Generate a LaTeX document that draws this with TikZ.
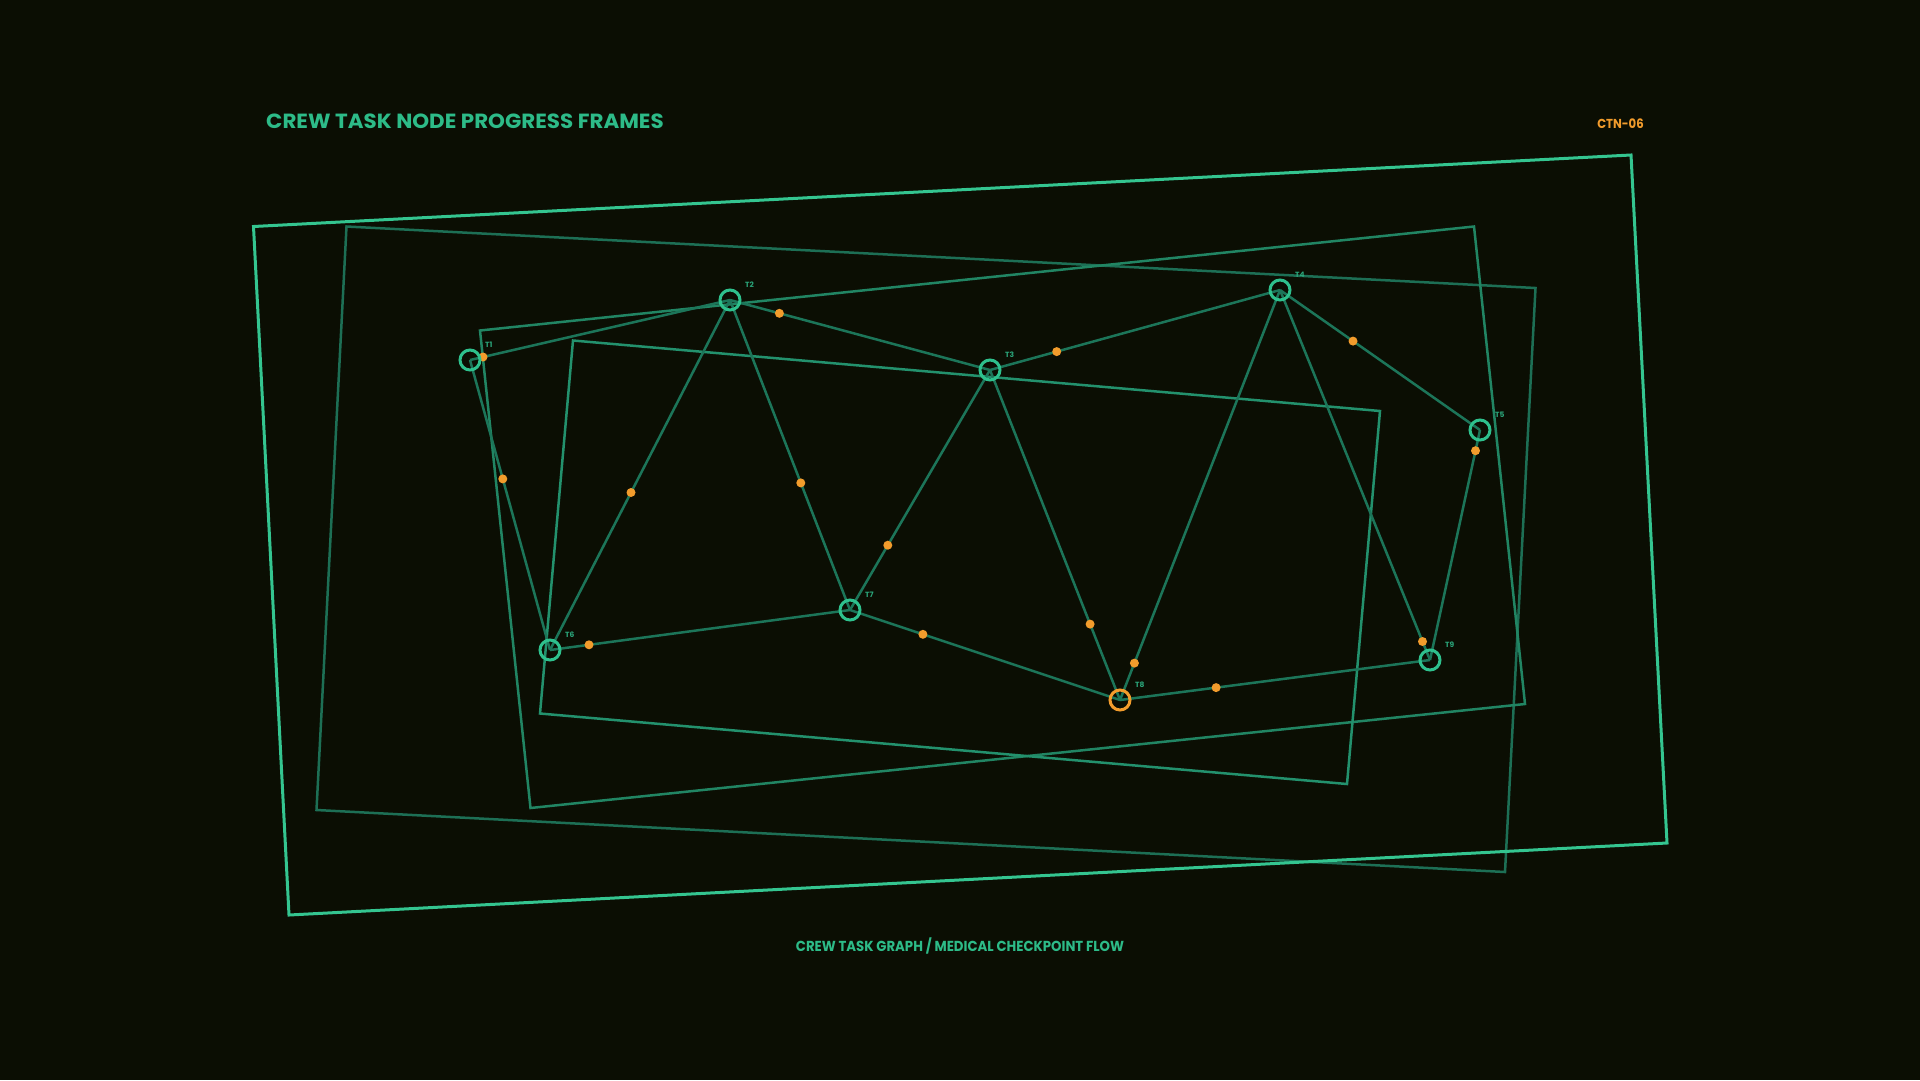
\documentclass[tikz,border=0pt]{standalone}
\usepackage{fontspec}
\setmainfont{Poppins}
\definecolor{bgc}{HTML}{0B0E03}
\definecolor{frA}{HTML}{34C590}
\definecolor{frB}{HTML}{1D6F55}
\definecolor{frC}{HTML}{218563}
\definecolor{frD}{HTML}{23916D}
\definecolor{edgec}{HTML}{1C7559}
\definecolor{nodec}{HTML}{2EC08D}
\definecolor{labc}{HTML}{2AA57A}
\definecolor{orng}{HTML}{F29C2C}
\definecolor{titlec}{HTML}{2DBB88}
\tikzset{
  frameA/.style={draw=frA, line width=3pt},
  frameB/.style={draw=frB, line width=2.5pt},
  frameC/.style={draw=frC, line width=2.5pt},
  frameD/.style={draw=frD, line width=2.5pt},
  edge/.style={draw=edgec, line width=2.5pt},
  tasknode/.style={circle, draw=nodec, line width=3pt, minimum size=20pt, inner sep=0pt},
  hotnode/.style={tasknode, draw=orng},
  progdot/.style={circle, fill=orng, minimum size=9pt, inner sep=0pt},
  tlabel/.style={anchor=west, text=labc, font=\bfseries\fontsize{7.5}{8}\selectfont, inner sep=0pt},
}
\begin{document}
\begin{tikzpicture}[x=1pt, y=-1pt]
\fill[bgc] (0,0) rectangle (1920,1080);
\useasboundingbox (0,0) rectangle (1920,1080);

% frames
\draw[frameB] (346.5,226.5) -- (1535.5,288) -- (1505,872) -- (316.5,810) -- cycle;
\draw[frameC] (480,330.5) -- (1474,226.5) -- (1525,704) -- (530.5,808) -- cycle;
\draw[frameD] (573,340.5) -- (1380,411) -- (1347,784) -- (540,713.5) -- cycle;
\draw[frameA] (253.5,226.5) -- (1631,155) -- (1667,843) -- (289,915) -- cycle;

% node centres
\coordinate (T1) at (470,360);
\coordinate (T2) at (730,300);
\coordinate (T3) at (990,370);
\coordinate (T4) at (1280,290);
\coordinate (T5) at (1480,430);
\coordinate (T6) at (550,650);
\coordinate (T7) at (850,610);
\coordinate (T8) at (1120,700);
\coordinate (T9) at (1430,660);

% edges with progress dots
\draw[edge] (T1) -- (T2) node[progdot, pos=0.05] (d12) {};
\draw[edge] (T1) -- (T6) node[progdot, pos=0.41] (d16) {};
\draw[edge] (T2) -- (T6) node[progdot, pos=0.55] (d26) {};
\draw[edge] (T2) -- (T3) node[progdot, pos=0.19] (d23) {};
\draw[edge] (T2) -- (T7) node[progdot, pos=0.59] (d27) {};
\draw[edge] (T3) -- (T4) node[progdot, pos=0.23] (d34) {};
\draw[edge] (T3) -- (T7) node[progdot, pos=0.73] (d37) {};
\draw[edge] (T3) -- (T8) node[progdot, pos=0.77] (d38) {};
\draw[edge] (T4) -- (T8) node[progdot, pos=0.91] (d48) {};
\draw[edge] (T4) -- (T5) node[progdot, pos=0.365] (d45) {};
\draw[edge] (T4) -- (T9) node[progdot, pos=0.95] (d49) {};
\draw[edge] (T5) -- (T9) node[progdot, pos=0.09] (d59) {};
\draw[edge] (T6) -- (T7) node[progdot, pos=0.13] (d67) {};
\draw[edge] (T7) -- (T8) node[progdot, pos=0.27] (d78) {};
\draw[edge] (T8) -- (T9) node[progdot, pos=0.31] (d89) {};

% task nodes
\foreach \n in {1,2,3,4,5,6,7,9}{
  \node[tasknode] (n\n) at (T\n) {};
  \node[tlabel] (l\n) at ([xshift=15pt, yshift=15pt]T\n) {T\n};
}
\node[hotnode] (n8) at (T8) {};
\node[tlabel] (l8) at ([xshift=15pt, yshift=15pt]T8) {T8};

% texts
\node[anchor=base west, inner sep=0pt, text=titlec, font=\bfseries\fontsize{20.5}{24}\selectfont] (title) at (266,128) {\scalebox{1.045}[1]{CREW TASK NODE PROGRESS FRAMES}};
\node[anchor=base east, inner sep=0pt, text=orng, font=\bfseries\fontsize{13}{15}\selectfont] (code) at (1644,128) {\scalebox{0.9}[1]{CTN-06}};
\node[anchor=base, inner sep=0pt, text=titlec, font=\bfseries\fontsize{14.5}{18}\selectfont] (foot) at (960,951) {\scalebox{0.915}[1]{CREW TASK GRAPH / MEDICAL CHECKPOINT FLOW}};
\end{tikzpicture}
\end{document}
